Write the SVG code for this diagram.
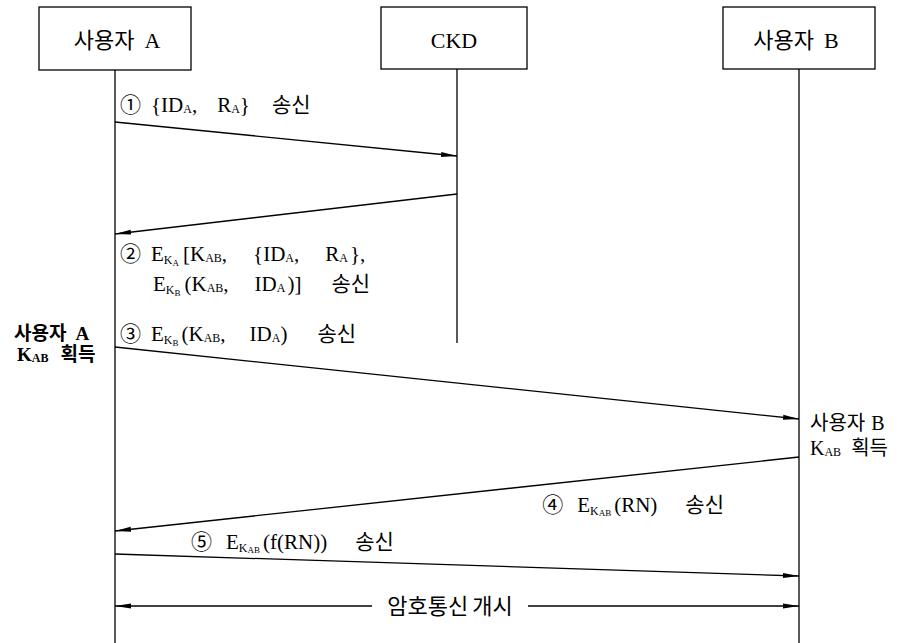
<svg xmlns="http://www.w3.org/2000/svg" width="903" height="643" viewBox="0 0 903 643">
<style>
.box{fill:#fff;stroke:#000;stroke-width:1.3}
.life{stroke:#000;stroke-width:1.3;fill:none}
.msg{stroke:#000;stroke-width:1.3;fill:none}
text{font-family:"Liberation Serif","Noto Sans CJK KR",serif;font-size:21px;fill:#000}
.t{font-size:22px}
.r{font-size:20px}
.s1{font-size:12px}
.s2{font-size:9px}
.b{font-weight:bold;font-size:19px}
</style>
<defs>
<marker id="ah" viewBox="0 0 16 6" refX="16" refY="3" markerWidth="16" markerHeight="6" markerUnits="userSpaceOnUse" orient="auto-start-reverse">
<path d="M0,0.5 L16,3 L0,5.5 Z" fill="#000"/>
</marker>
</defs>
<rect width="903" height="643" fill="#fff"/>
<g id="nodeA">
<rect class="box" x="39" y="7" width="152" height="63"/>
<text class="t" x="117" y="48" text-anchor="middle">사용자<tspan dx="10">A</tspan></text>
</g>
<g id="nodeCKD">
<rect class="box" x="381" y="7" width="146" height="62"/>
<text class="t" x="454" y="48" text-anchor="middle">CKD</text>
</g>
<g id="nodeB">
<rect class="box" x="723" y="7" width="152" height="62"/>
<text class="t" x="796" y="48" text-anchor="middle">사용자<tspan dx="10">B</tspan></text>
</g>
<g id="connectors">
<line class="life" x1="115" y1="70" x2="115" y2="643"/>
<line class="life" x1="457" y1="69" x2="457" y2="343"/>
<line class="life" x1="799" y1="69" x2="799" y2="643"/>
<line class="msg" x1="115" y1="122" x2="457" y2="156" marker-end="url(#ah)"/>
<line class="msg" x1="457" y1="194" x2="115" y2="234" marker-end="url(#ah)"/>
<line class="msg" x1="115" y1="347" x2="799" y2="419" marker-end="url(#ah)"/>
<line class="msg" x1="799" y1="457" x2="115" y2="531" marker-end="url(#ah)"/>
<line class="msg" x1="115" y1="554" x2="799" y2="576" marker-end="url(#ah)"/>
<line class="msg" x1="372" y1="606" x2="115" y2="606" marker-end="url(#ah)"/>
<line class="msg" x1="528" y1="606" x2="799" y2="606" marker-end="url(#ah)"/>
</g>
<g id="labels">
<text x="120" y="112">①<tspan dx="10">{ID</tspan><tspan class="s1" dy="1">A</tspan><tspan dy="-1">,</tspan><tspan dx="20">R</tspan><tspan class="s1" dy="1">A</tspan><tspan dy="-1">}</tspan><tspan dx="22">송신</tspan></text>
<text x="120" y="261">②<tspan dx="10">E</tspan><tspan class="s1" dy="3">K</tspan><tspan class="s2" dy="2">A</tspan><tspan dx="4" dy="-5">[K</tspan><tspan class="s1" dy="1">AB</tspan><tspan dy="-1">,</tspan><tspan dx="26">{ID</tspan><tspan class="s1" dy="1">A</tspan><tspan dy="-1">,</tspan><tspan dx="26">R</tspan><tspan class="s1" dy="1">A</tspan><tspan dx="2" dy="-1">},</tspan></text>
<text x="153" y="291">E<tspan class="s1" dy="3">K</tspan><tspan class="s2" dy="2">B</tspan><tspan dx="4" dy="-5">(K</tspan><tspan class="s1" dy="1">AB</tspan><tspan dy="-1">,</tspan><tspan dx="26">ID</tspan><tspan class="s1" dy="1">A</tspan><tspan dx="2" dy="-1">)]</tspan><tspan dx="30">송신</tspan></text>
<text x="120" y="341">③<tspan dx="10">E</tspan><tspan class="s1" dy="3">K</tspan><tspan class="s2" dy="2">B</tspan><tspan dx="3" dy="-5">(K</tspan><tspan class="s1" dy="1">AB</tspan><tspan dy="-1">,</tspan><tspan dx="24">ID</tspan><tspan class="s1" dy="1">A</tspan><tspan dy="-1">)</tspan><tspan dx="30">송신</tspan></text>
<text class="b" x="14" y="340">사용자<tspan dx="9">A</tspan></text>
<text class="b" x="17" y="361">K<tspan class="s1" dy="1">AB</tspan><tspan dx="12" dy="-1">획득</tspan></text>
<text class="r" x="810" y="430">사용자<tspan dx="6">B</tspan></text>
<text class="r" x="810" y="455">K<tspan class="s1" dy="1">AB</tspan><tspan dx="10" dy="-1">획득</tspan></text>
<text x="724" y="512" text-anchor="end">④<tspan dx="14">E</tspan><tspan class="s1" dy="3">K</tspan><tspan class="s2" dy="1">AB</tspan><tspan dx="3" dy="-4">(RN)</tspan><tspan dx="28">송신</tspan></text>
<text x="191" y="549">⑤<tspan dx="14">E</tspan><tspan class="s1" dy="3">K</tspan><tspan class="s2" dy="1">AB</tspan><tspan dx="3" dy="-4">(f(RN))</tspan><tspan dx="28">송신</tspan></text>
<text class="t" x="450" y="614" text-anchor="middle">암호통신<tspan dx="4">개시</tspan></text>
</g>
</svg>
